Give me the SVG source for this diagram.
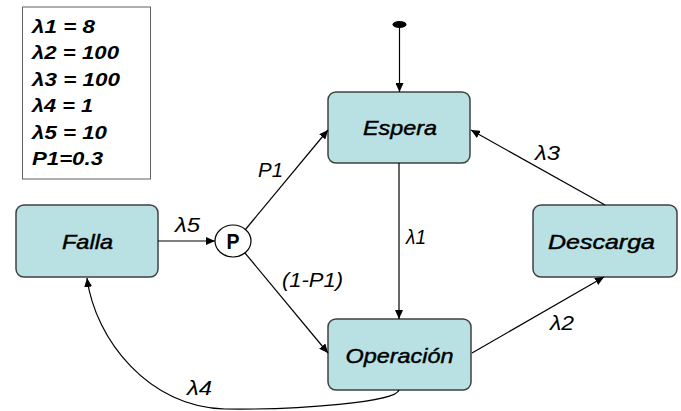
<svg xmlns="http://www.w3.org/2000/svg" width="681" height="411" viewBox="0 0 681 411">
<style>
.node{fill:#B9E0E3;stroke:#404040;stroke-width:1.5}
.lbl{font-family:"Liberation Sans",Arial,sans-serif;font-style:italic;font-size:21px;fill:#000;stroke:#000;stroke-width:0.45;text-anchor:middle}
.elbl{font-family:"Liberation Sans",Arial,sans-serif;font-style:italic;font-size:20px;fill:#000}
.leg{font-family:"Liberation Sans",Arial,sans-serif;font-style:italic;font-weight:bold;font-size:18px;fill:#000}
.edge{fill:none;stroke:#000;stroke-width:1.2;marker-end:url(#arr)}
</style>
<defs>
<marker id="arr" markerUnits="userSpaceOnUse" markerWidth="10" markerHeight="8" refX="9" refY="4" orient="auto">
<path d="M0,0 L9,4 L0,8 Z" fill="#000"/>
</marker>
</defs>
<rect width="681" height="411" fill="#fff"/>
<g id="legend">
<rect x="22.5" y="7" width="128" height="172" fill="#fff" stroke="#606060" stroke-width="1"/>
<text class="leg" x="32" y="33" textLength="63" lengthAdjust="spacingAndGlyphs">λ1 = 8</text>
<text class="leg" x="32" y="59" textLength="87" lengthAdjust="spacingAndGlyphs">λ2 = 100</text>
<text class="leg" x="32" y="86" textLength="88" lengthAdjust="spacingAndGlyphs">λ3 = 100</text>
<text class="leg" x="32" y="112" textLength="61" lengthAdjust="spacingAndGlyphs">λ4 = 1</text>
<text class="leg" x="32" y="139" textLength="75" lengthAdjust="spacingAndGlyphs">λ5 = 10</text>
<text class="leg" x="32" y="165" textLength="71" lengthAdjust="spacingAndGlyphs">P1=0.3</text>
</g>
<g id="start">
<ellipse cx="399.5" cy="24.5" rx="7" ry="3.5" fill="#000"/>
</g>
<g id="espera">
<rect class="node" x="328" y="92" width="142" height="71" rx="8"/>
<text class="lbl" x="400" y="135" textLength="74" lengthAdjust="spacingAndGlyphs">Espera</text>
</g>
<g id="falla">
<rect class="node" x="16" y="205" width="142" height="72" rx="8"/>
<text class="lbl" x="87.5" y="249" textLength="51" lengthAdjust="spacingAndGlyphs">Falla</text>
</g>
<g id="operacion">
<rect class="node" x="328" y="319" width="143" height="71" rx="8"/>
<text class="lbl" x="399.5" y="363" textLength="108" lengthAdjust="spacingAndGlyphs">Operación</text>
</g>
<g id="descarga">
<rect class="node" x="533" y="205" width="144" height="72" rx="8"/>
<text class="lbl" x="601.5" y="249" textLength="107" lengthAdjust="spacingAndGlyphs">Descarga</text>
</g>
<g id="p">
<ellipse cx="233" cy="241" rx="18" ry="16" fill="#fff" stroke="#000" stroke-width="1.2"/>
<text x="233" y="249" font-family="Liberation Sans,Arial,sans-serif" font-weight="bold" font-size="22" text-anchor="middle" textLength="13" lengthAdjust="spacingAndGlyphs">P</text>
</g>
<g id="connectors">
<line class="edge" x1="399.5" y1="28" x2="399.5" y2="92"/>
<line class="edge" x1="399" y1="163" x2="399" y2="319"/>
<line class="edge" x1="158" y1="241" x2="215" y2="241"/>
<line class="edge" x1="245" y1="230" x2="328" y2="130"/>
<line class="edge" x1="245" y1="253" x2="328" y2="353"/>
<line class="edge" x1="472" y1="353" x2="604" y2="277"/>
<line class="edge" x1="605" y1="205" x2="471" y2="130"/>
<path class="edge" d="M399,390 C396,402 300,410 225,409 C150,408 95,340 87,278"/>
<text class="elbl" x="406" y="244" textLength="20" lengthAdjust="spacingAndGlyphs">λ1</text>
<text class="elbl" x="535" y="160" textLength="25" lengthAdjust="spacingAndGlyphs">λ3</text>
<text class="elbl" x="550" y="330" textLength="24" lengthAdjust="spacingAndGlyphs">λ2</text>
<text class="elbl" x="175" y="232" textLength="25" lengthAdjust="spacingAndGlyphs">λ5</text>
<text class="elbl" x="187" y="395" textLength="25" lengthAdjust="spacingAndGlyphs">λ4</text>
<text class="elbl" x="258" y="177" textLength="25" lengthAdjust="spacingAndGlyphs">P1</text>
<text class="elbl" x="282" y="287" textLength="61" lengthAdjust="spacingAndGlyphs">(1-P1)</text>
</g>
</svg>
